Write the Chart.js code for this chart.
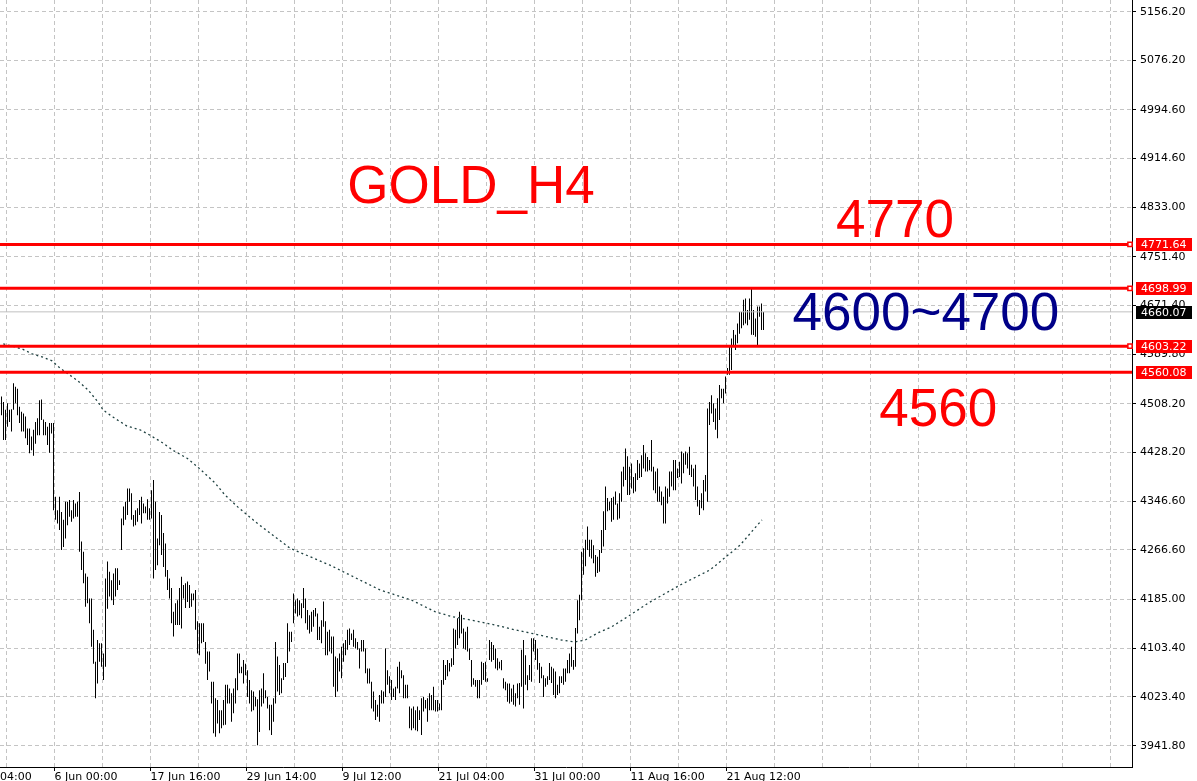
<!DOCTYPE html>
<html><head><meta charset="utf-8">
<script src="https://cdn.jsdelivr.net/npm/chart.js@4.4.1/dist/chart.umd.min.js"></script>
<style>html,body{margin:0;padding:0;background:#fff;overflow:hidden}#wrap{width:1197px;height:781px}</style>
</head><body><div id="wrap"><canvas id="c" width="1197" height="781"></canvas></div>
<script>
// ---- data (GOLD H4 bars: high / low) ----
const barHighs = [
4520,4511,4498,4509,4498,4499,4542,4536,4533,4503,4495,4492,4487,4467,4467,4454,4465,4478,4484,4514,
4515,4482,4478,4470,4476,4476,4476,4354,4332,4354,4329,4316,4346,4346,4349,4332,4349,4343,4346,4362,
4280,4263,4227,4222,4186,4186,4134,4081,4117,4112,4112,4095,4219,4247,4230,4216,4227,4236,4236,4216,
4318,4338,4346,
4368,4368,4360,4324,4332,4335,4349,4354,4343,4338,4350,4335,4365,4382,4346,4285,4329,4324,4294,4277,
4233,4219,4203,4164,4178,4183,4203,4222,4208,4211,4214,4208,4194,4194,4200,4148,4145,4145,4145,4114,
4098,4098,4048,4048,4021,4018,4001,4001,4018,4043,4043,4037,4029,4037,4054,4095,4095,4073,4084,4078,
4067,4051,4034,4032,4023,
4019,4034,4037,4062,4034,4023,4010,4010,4021,4114,4090,4076,4054,4079,4079,4145,4131,4131,4194,4183,
4186,4183,4178,4203,4186,4167,4158,4164,4167,4170,4161,4139,4150,4181,4148,4131,4134,4123,4123,4090,
4087,4095,4106,4112,4117,4134,4136,4128,4134,4120,4114,4103,4117,4117,4103,4070,4070,4048,4032,4018,
4010,4026,4034,4032,4103,
4067,4057,4051,4037,4040,4073,4081,4067,4059,4043,4043,4007,4004,4007,4001,4007,4001,4021,4023,4018,
4021,4029,4026,4040,4018,4018,4012,4051,4084,4076,4084,4079,4087,4136,4134,4153,4164,4159,4136,4131,
4139,4103,4084,4054,4051,4051,4051,4081,4079,4081,4054,4117,4114,4109,4103,4087,4081,4084,4054,4048,
4045,4045,4037,4043,4029,
4045,4046,4101,4117,4092,4059,4076,4120,4120,4117,4103,4079,4073,4059,4054,4057,4079,4073,4070,4065,
4043,4057,4057,4070,4070,4084,4095,4106,4084,4137,4183,4192,4263,4269,4283,4305,4283,4283,4274,4258,
4255,4266,4299,4330,4371,4352,4346,4352,4354,4363,4343,4360,4396,4404,4434,4421,4404,4409,4387,4393,
4415,4409,4423,4440,4426,
4420,4415,4448,4404,4396,4401,4371,4363,4354,4371,4368,4396,4396,4415,4415,4401,4412,4429,4426,4429,
4426,4437,4407,4401,4407,4371,4349,4360,4382,4390,4500,4511,4522,4509,4500,4517,4539,4533,4533,4553,
4567,4605,4616,4630,4622,4641,4660,4660,4680,4682,4663,4682,4699,4663,4649,4669,4669,4674,4660
];
const barLows = [
4489,4448,4448,4470,4478,4462,4498,4509,4489,4476,4462,4462,4451,4440,4426,4431,4422,4442,4456,4456,
4481,4456,4456,4440,4427,4459,4332,4316,4310,4299,4266,4271,4285,4307,4321,4313,4318,4321,4321,4263,
4233,4211,4172,4178,4145,4106,4078,4021,4045,4081,4073,4051,4073,4169,4189,4183,4175,4189,4200,4208,
4266,4307,4316,
4324,4346,4316,4305,4307,4313,4324,4310,4327,4327,4316,4316,4318,4219,4233,4241,4274,4258,4238,4222,
4200,4186,4145,4123,4142,4142,4142,4136,4186,4170,4180,4170,4172,4183,4134,4095,4092,4112,4114,4078,
4051,4065,4012,3963,3957,3979,3963,3971,3976,3977,4012,4012,3982,3996,4012,4034,4062,4062,4045,4059,
4023,4012,3999,4001,4007,
3943,3965,4007,4012,4021,4004,3968,3960,3982,4012,4032,4026,4029,4051,4056,4079,4098,4114,4145,4161,
4156,4158,4153,4170,4145,4134,4128,4131,4139,4156,4117,4117,4112,4139,4092,4092,4098,4095,4040,4023,
4032,4065,4054,4081,4092,4101,4109,4117,4106,4103,4101,4070,4098,4098,4062,4045,4045,4004,3999,3985,
3990,3982,4012,4012,4023,
4043,4029,4018,4023,4018,4037,4029,4054,4021,4021,4021,3971,3968,3971,3968,3966,3985,3960,3999,4004,
3982,4001,4001,4001,3999,3999,4001,4001,4043,4051,4057,4065,4073,4076,4103,4109,4120,4128,4103,4101,
4098,4084,4040,4043,4040,4021,4021,4043,4051,4048,4048,4084,4081,4084,4070,4067,4070,4067,4037,4034,
4015,4012,4015,4010,4007,
4021,4010,4040,4004,4043,4034,4051,4048,4098,4084,4068,4046,4054,4023,4040,4043,4051,4046,4026,4021,
4026,4029,4046,4043,4048,4062,4062,4073,4068,4073,4128,4150,4183,4225,4239,4266,4255,4252,4244,4222,
4228,4230,4261,4272,4299,4330,4332,4313,4316,4341,4316,4318,4346,4371,4382,4357,4357,4368,4360,4363,
4382,4385,4387,4401,4396,
4396,4398,4396,4365,4360,4346,4346,4340,4310,4310,4343,4354,4371,4365,4365,4385,4387,4376,4393,4407,
4401,4390,4387,4371,4349,4338,4324,4335,4332,4363,4346,4473,4492,4478,4465,4451,4481,4517,4509,4525,
4556,4556,4564,4602,4597,4608,4624,4633,4638,4641,4638,4647,4622,4622,4619,4603,4652,4630,4630
];
// moving average (dotted line), read at points: bar index / value
const maBars = [0.9,10.1,15.75,20.75,25.25,28.25,31.75,37.75,43.25,48.25,50.75,55.75,62.75,69.25,74.25,80.75,85.75,92.75,98.25,106.75,111.75,118.25,127.6,144.25,164.25,189.25,205.1,216.75,225.1,235.1,246.75,256.75,266.75,280.1,286.75,291.75,298.25,305.1,311.75,318.25,323.25,339.25,354.25,369.25,380.25];
const maValues = [4607,4599,4590,4585,4579,4570,4561,4547,4531,4511,4498,4486,4471,4465,4456,4443,4431,4418,4403,4377,4357,4337,4311,4269,4241,4200,4183,4164,4156,4150,4142,4134,4127,4117,4114,4117,4129,4139,4153,4167,4178,4208,4233,4274,4316];
const yTickValues = [5156.20,5076.20,4994.60,4914.60,4833.00,4751.40,4671.40,4589.80,4508.20,4428.20,4346.60,4266.60,4185.00,4103.40,4023.40,3941.80];
const timeLabels = ['04:00','6 Jun 00:00','17 Jun 16:00','29 Jun 14:00','9 Jul 12:00','21 Jul 04:00','31 Jul 00:00','11 Aug 16:00','21 Aug 12:00'];
const levelValues = [4771.64, 4698.99, 4603.22, 4560.08];
const levelMarked = [true, true, true, false];
const lastPrice = 4660.07;
const noteTexts = ['GOLD_H4','4770','4600~4700','4560'];

// ---- layout / style ----
const X_MIN = -0.75, X_MAX = 565.25;
const Y_MAX = 5176.05, Y_MIN = 3907.05;
const GRID_START = 2.5, GRID_STEP = 24, GRID_COUNT = 24;
const notePlacement = [
  {x: 234.75, y: 4840.2, color: '#ff0000'},
  {x: 446.75, y: 4783.9, color: '#ff0000'},
  {x: 462.2,  y: 4630.1, color: '#000088'},
  {x: 468.4,  y: 4471.2, color: '#ff0000'}
];
const AXIS_FONT = {family: 'DejaVu Sans', size: 11};
const GRID_COLOR = '#c4c4c4';

const xTickVals = [X_MIN];
for (let k = 0; k < GRID_COUNT; k++) xTickVals.push(GRID_START + GRID_STEP * k);
function xLabelIndex(i) {
  if (i === 0) return 0;
  const k = i - 1;
  if (k % 2 === 1) {
    const j = (k - 1) / 2 + 1;
    if (j < timeLabels.length) return j;
  }
  return -1;
}

const datasets = [];
datasets.push({
  type: 'bar',
  data: barHighs.map((h, i) => ({x: i, y: [barLows[i], h]})),
  backgroundColor: '#000', borderWidth: 0, barThickness: 1, inflateAmount: 0,
  grouped: false, order: 10
});
datasets.push({
  type: 'line',
  data: maBars.map((b, i) => ({x: b, y: maValues[i]})),
  borderColor: '#1e4040', borderWidth: 1.3, borderDash: [2, 3], pointRadius: 0, tension: 0, order: 4
});
datasets.push({
  type: 'line',
  data: [{x: X_MIN, y: lastPrice}, {x: X_MAX, y: lastPrice}],
  borderColor: '#c0c0c0', borderWidth: 1, pointRadius: 0, order: 3
});
levelValues.forEach((lv, i) => {
  datasets.push({
    type: 'line',
    data: [{x: X_MIN, y: lv}, {x: 564.25, y: lv}, {x: X_MAX, y: lv}],
    borderColor: '#ff0000', borderWidth: 3, order: 1, clip: false,
    pointRadius: levelMarked[i] ? [0, 3, 0] : 0,
    pointStyle: 'rect', pointBackgroundColor: '#ffffff', pointBorderColor: '#ff0000', pointBorderWidth: 1.5
  });
});

const overlay = {
  id: 'overlay',
  afterDraw(chart) {
    const ctx = chart.ctx, ys = chart.scales.y, xs = chart.scales.x;
    ctx.save();
    ctx.font = '11px "DejaVu Sans"';
    ctx.textBaseline = 'middle';
    ctx.textAlign = 'left';
    const boxes = levelValues.map(v => ({v, bg: '#ff0000'})).concat([{v: lastPrice, bg: '#000000'}]);
    boxes.forEach(b => {
      const y = Math.round(ys.getPixelForValue(b.v));
      ctx.fillStyle = b.bg;
      ctx.fillRect(1136, y - 6, 56, 13);
      ctx.fillStyle = '#ffffff';
      ctx.fillText(b.v.toFixed(2), 1141, y + 1);
    });
    ctx.font = '53px "Liberation Sans", Arial, sans-serif';
    ctx.textAlign = 'center';
    ctx.textBaseline = 'alphabetic';
    noteTexts.forEach((t, i) => {
      const p = notePlacement[i];
      ctx.fillStyle = p.color;
      ctx.fillText(t, xs.getPixelForValue(p.x), ys.getPixelForValue(p.y));
    });
    ctx.restore();
  }
};

new Chart(document.getElementById('c'), {
  type: 'bar',
  data: {datasets},
  options: {
    responsive: false, animation: false, events: [],
    layout: {padding: 0},
    plugins: {legend: {display: false}, tooltip: {enabled: false}, title: {display: false}},
    scales: {
      x: {
        type: 'linear', min: X_MIN, max: X_MAX, offset: false,
        afterBuildTicks: s => { s.ticks = xTickVals.map(v => ({value: v})); },
        afterFit: s => { s.height = 14; s.paddingLeft = 0; s.paddingRight = 0; },
        ticks: {
          autoSkip: false, maxRotation: 0, minRotation: 0, align: 'start', padding: 0,
          font: AXIS_FONT, color: '#000',
          callback: (v, i) => { const j = xLabelIndex(i); return j >= 0 ? timeLabels[j] : ''; }
        },
        grid: {
          offset: false, drawTicks: true, tickLength: 4, lineWidth: 1,
          color: c => c.index === 0 ? 'rgba(0,0,0,0)' : GRID_COLOR,
          tickColor: c => (c.index > 0 && xLabelIndex(c.index) > 0) ? '#000' : 'rgba(0,0,0,0)'
        },
        border: {display: true, color: '#000', width: 1, dash: [4, 3]}
      },
      y: {
        type: 'linear', position: 'right', min: Y_MIN, max: Y_MAX,
        afterBuildTicks: s => { s.ticks = yTickValues.map(v => ({value: v})); },
        afterFit: s => { s.width = 65; s.paddingTop = 0; s.paddingBottom = 0; },
        ticks: {padding: 4, font: AXIS_FONT, color: '#000', callback: v => Number(v).toFixed(2)},
        grid: {drawTicks: true, tickLength: 4, color: GRID_COLOR, tickColor: '#000', lineWidth: 1},
        border: {display: true, color: '#000', width: 1, dash: [4, 3]}
      }
    }
  },
  plugins: [overlay]
});
</script>
</body></html>
